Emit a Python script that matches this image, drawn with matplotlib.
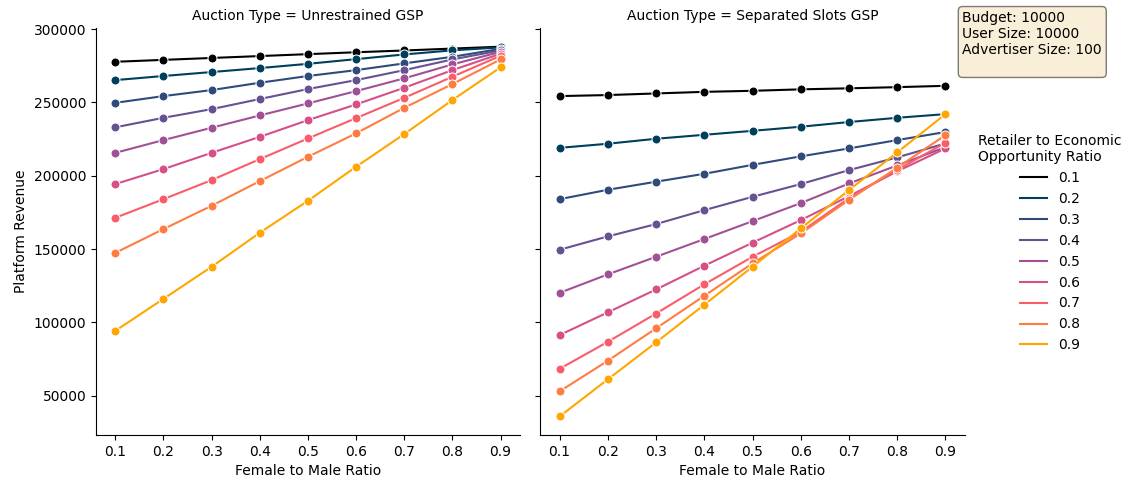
import numpy as np
import matplotlib
matplotlib.use("Agg")
import matplotlib.pyplot as plt

# x values (Female to Male Ratio)
ratios = [0.1, 0.2, 0.3, 0.4, 0.5, 0.6, 0.7, 0.8, 0.9]
retailer_ratios = ["0.1", "0.2", "0.3", "0.4", "0.5", "0.6", "0.7", "0.8", "0.9"]
panels = ["Unrestrained GSP", "Separated Slots GSP"]

# platform revenue, Unrestrained GSP, one row per retailer ratio
unrestrained = [
    [277700, 279000, 280300, 281600, 282900, 284200, 285400, 286700, 288000],
    [265200, 268000, 270700, 273400, 276300, 279500, 282700, 285500, 287500],
    [249700, 254300, 258400, 263400, 268000, 272000, 276600, 281100, 286500],
    [233000, 239500, 245400, 252300, 259100, 265200, 272000, 279300, 285500],
    [215600, 224300, 232700, 241100, 249300, 257700, 266400, 275900, 284500],
    [194300, 204500, 215600, 226500, 237900, 248600, 260000, 272000, 283200],
    [171300, 184000, 197000, 211300, 225400, 239300, 253100, 267500, 281800],
    [147400, 163600, 179500, 196300, 212900, 228900, 246300, 262500, 279300],
    [94200, 116000, 137900, 161100, 182900, 206100, 228400, 251600, 273900],
]

# platform revenue, Separated Slots GSP
separated = [
    [254300, 255000, 256100, 257200, 257900, 258900, 259600, 260400, 261300],
    [219000, 221800, 225200, 227900, 230600, 233400, 236600, 239500, 242000],
    [184000, 190400, 195900, 201300, 207400, 213200, 218600, 224300, 229800],
    [149500, 158600, 167000, 176500, 185600, 194300, 203800, 212500, 222000],
    [120100, 132700, 144700, 156800, 169000, 181300, 194700, 207000, 219500],
    [91300, 106800, 122400, 138600, 154300, 169700, 186000, 203000, 218600],
    [68300, 86700, 106000, 125900, 144700, 161700, 184700, 204000, 222500],
    [52900, 73800, 95900, 118100, 140200, 160600, 183500, 205500, 227700],
    [35800, 61100, 86300, 112000, 137900, 164000, 190200, 215900, 242000],
]

colors = ["#000000", "#003f5c", "#2f4b7c", "#665191", "#a05195",
          "#d45087", "#f95d6a", "#ff7c43", "#ffa600"]

fig = plt.figure(figsize=(11.35, 4.86), dpi=100)
ax1 = fig.add_axes([0.0846, 0.105, 0.3734, 0.837])
ax2 = fig.add_axes([0.476, 0.105, 0.374, 0.837], sharey=ax1)

for ax, name, data in zip([ax1, ax2], panels, [unrestrained, separated]):
    for vals, lab, c in zip(data, retailer_ratios, colors):
        ax.plot(ratios, vals, color=c, lw=1.5, marker="o", markersize=6.5,
                markeredgecolor="white", markeredgewidth=0.75, label=lab)
    ax.set_title("Auction Type = " + name, fontsize=10)
    ax.set_xlabel("Female to Male Ratio", fontsize=10)
    ax.set_xticks(ratios)
    ax.set_xticklabels([str(r) for r in ratios])
    ax.spines["top"].set_visible(False)
    ax.spines["right"].set_visible(False)

ax1.set_ylabel("Platform Revenue", fontsize=10)
ax1.set_yticks([50000, 100000, 150000, 200000, 250000, 300000])
plt.setp(ax2.get_yticklabels(), visible=False)

handles = [plt.Line2D([], [], color=c, lw=1.5) for c in colors]
fig.legend(handles, retailer_ratios, title="Retailer to Economic\nOpportunity Ratio",
           loc="center left", bbox_to_anchor=(0.851, 0.5), frameon=False,
           fontsize=10, title_fontsize=10)

fig.text(0.848, 0.978, "Budget: 10000\nUser Size: 10000\nAdvertiser Size: 100\n",
         fontsize=10, va="top", ha="left",
         bbox=dict(boxstyle="round", facecolor="wheat", alpha=0.5))

fig.savefig("out.png", dpi=100)
